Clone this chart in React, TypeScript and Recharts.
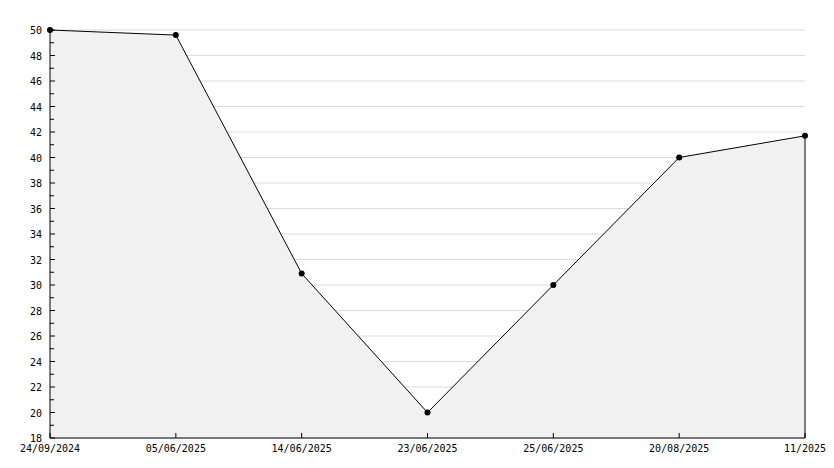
import React from 'react';
import { AreaChart, Area, XAxis, YAxis, CartesianGrid, ReferenceLine } from 'recharts';

const dates = ['24/09/2024', '05/06/2025', '14/06/2025', '23/06/2025', '25/06/2025', '20/08/2025', '11/2025'];
const values = [50, 49.6, 30.9, 20, 30, 40, 41.7];
const minorTicks = Array.from({ length: 33 }, (_, i) => 18 + i);
const gridValues = minorTicks.filter(v => v % 2 === 0);

const data = dates.map((d, i) => ({ date: d, value: values[i] }));

const font = '"DejaVu Sans Mono", monospace';

const YTick = (props: any) => {
  const { x, y, payload } = props;
  const v = payload.value;
  const major = v % 2 === 0;
  return (
    <g>
      <line x1={x} x2={x + (major ? 5 : 4)} y1={y} y2={y} stroke="#000" />
      {major && (
        <text x={x - 8} y={y} dy={4} textAnchor="end" fontSize={10} fontFamily={font} fill="#000">
          {v}
        </text>
      )}
    </g>
  );
};

const XTick = (props: any) => {
  const { x, y, payload } = props;
  return (
    <g>
      <line x1={x} x2={x} y1={y} y2={y - 5} stroke="#000" />
      <text x={x} y={y + 14} textAnchor="middle" fontSize={10} fontFamily={font} fill="#000">
        {payload.value}
      </text>
    </g>
  );
};

const Dot = (props: any) => {
  const { cx, cy } = props;
  return <circle cx={cx} cy={cy} r={3} fill="#000" />;
};

export default function App() {
  return (
    <div style={{ position: 'absolute', left: 0, top: 0, background: '#fff' }}>
      <AreaChart width={834} height={468} data={data} margin={{ top: 30, right: 29, bottom: 0, left: 0 }}>
        <CartesianGrid vertical={false} stroke="#dcdcdc" horizontalValues={gridValues} />
        <XAxis
          dataKey="date"
          axisLine={{ stroke: '#000' }}
          tickLine={false}
          tickSize={0}
          tickMargin={0}
          tick={<XTick />}
          height={30}
          interval={0}
        />
        <YAxis
          domain={[18, 50]}
          ticks={minorTicks}
          interval={0}
          axisLine={{ stroke: '#000' }}
          tickLine={false}
          tickSize={0}
          tickMargin={0}
          tick={<YTick />}
          width={50}
        />
        <Area
          type="linear"
          dataKey="value"
          stroke="#000"
          strokeWidth={1}
          fill="#f1f1f1"
          fillOpacity={1}
          dot={<Dot />}
          activeDot={false}
          isAnimationActive={false}
        />
        <ReferenceLine
          segment={[{ x: dates[dates.length - 1], y: 18 }, { x: dates[dates.length - 1], y: values[values.length - 1] }]}
          stroke="#000"
        />
      </AreaChart>
    </div>
  );
}
